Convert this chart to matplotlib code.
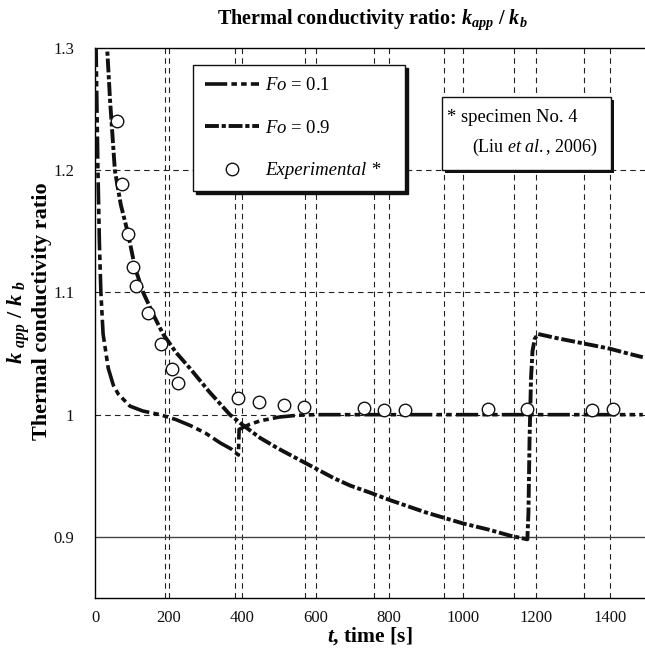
import numpy as np
import matplotlib
matplotlib.use("Agg")
import matplotlib.pyplot as plt
from matplotlib.patches import Rectangle

plt.rcParams["font.family"] = ["Liberation Serif", "DejaVu Serif"]
plt.rcParams["mathtext.fontset"] = "custom"
plt.rcParams["mathtext.rm"] = "Liberation Serif"
plt.rcParams["mathtext.it"] = "Liberation Serif:italic"
plt.rcParams["mathtext.bf"] = "Liberation Serif:bold"
plt.rcParams["mathtext.bfit"] = "Liberation Serif:bold:italic"
plt.rcParams["lines.scale_dashes"] = False

# ── data ─────────────────────────────────────────────────────────────────────
# Fo = 0.1 : fast relaxation, reset near t = 390 s
t_fo01 = [2, 3, 5, 8, 12, 16, 22, 36, 50, 63, 95, 130, 177, 220, 260, 300,
          340, 370, 390, 392, 420, 450, 500, 550, 600, 800, 1000, 1200, 1490]
k_fo01 = [1.36, 1.30, 1.257, 1.20, 1.14, 1.10, 1.066, 1.038, 1.024, 1.017,
          1.007, 1.003, 1.000, 0.996, 0.991, 0.985, 0.977, 0.972, 0.967,
          0.988, 0.992, 0.995, 0.998, 0.9995, 1.000, 1.000, 1.000, 1.000, 1.000]

# Fo = 0.9 : slow relaxation, reset near t = 1180 s
t_fo09 = [30, 33, 41, 54, 70, 90, 109, 131, 160, 185, 220, 258, 310, 367,
          400, 449, 500, 550, 600, 650, 694, 750, 803, 900, 1001, 1070, 1129,
          1176, 1179, 1182, 1186, 1190, 1196, 1205, 1250, 1300, 1350, 1400,
          1450, 1490]
k_fo09 = [1.33, 1.30, 1.257, 1.20, 1.172, 1.148, 1.120, 1.100, 1.081, 1.066,
          1.051, 1.038, 1.019, 1.000, 0.992, 0.981, 0.972, 0.964, 0.956, 0.948,
          0.942, 0.936, 0.930, 0.920, 0.911, 0.906, 0.901, 0.898, 0.92, 0.98,
          1.03, 1.052, 1.062, 1.066, 1.063, 1.060, 1.057, 1.054, 1.050, 1.047]

# experimental points (Liu et al., 2006, specimen No. 4)
t_exp = [59, 74, 91, 103, 112, 143, 179, 210, 227, 390, 446, 514, 569,
         732, 787, 844, 1068, 1175, 1351, 1410]
k_exp = [1.240, 1.189, 1.148, 1.121, 1.105, 1.083, 1.058, 1.037, 1.026,
         1.014, 1.010, 1.008, 1.006, 1.0055, 1.004, 1.004, 1.0046, 1.0046,
         1.004, 1.0046]

x_ticks = [0, 200, 400, 600, 800, 1000, 1200, 1400]
y_ticks = [0.9, 1.0, 1.1, 1.2, 1.3]
y_ticklabels = ["0.9", "1", "1.1", "1.2", "1.3"]
x_grid_extra = [190, 380, 570, 760, 950, 1140, 1330]

# ── figure ───────────────────────────────────────────────────────────────────
W, H = 645, 658
fig = plt.figure(figsize=(W / 100, H / 100), dpi=100)
ax = fig.add_axes([95 / W, 60 / H, 550 / W, 550 / H])
ax.set_xlim(0, 1496)
ax.set_ylim(0.85, 1.3)

grid_kw = dict(color="#222222", lw=0.8, ls=(0, (4, 3)), zorder=1)
for x in x_ticks[1:] + x_grid_extra:
    ax.axvline(x, **grid_kw)
for y in y_ticks[1:4]:
    ax.axhline(y, **grid_kw)
ax.axhline(y_ticks[0], color="#444444", lw=1.0, zorder=1)

ax.plot(t_fo01, k_fo01, color="#111111", lw=2.6,
        ls=(0, (16, 3, 4, 3, 4, 3)), label=r"$\mathit{Fo}$ = 0.1", zorder=3)
ax.plot(t_fo09, k_fo09, color="#111111", lw=2.8,
        ls=(0, (10, 2, 3, 2)), label=r"$\mathit{Fo}$ = 0.9", zorder=3)
ax.plot(t_exp, k_exp, "o", ms=9, mfc="white", mec="#111111", mew=1.0,
        label="Experimental *", zorder=4)

ax.set_xticks(x_ticks)
ax.set_yticks(y_ticks)
ax.set_yticklabels(y_ticklabels)
ax.tick_params(length=0, labelsize=12, colors="#111111")
ax.tick_params(axis="y", pad=15)
ax.tick_params(axis="x", pad=9)
ax.spines["right"].set_visible(False)
for s in ["left", "bottom", "top"]:
    ax.spines[s].set_linewidth(1.0)

leg = ax.legend(loc="upper left", bbox_to_anchor=(0.178, 0.738, 0.386, 0.231),
                mode="expand", borderaxespad=0, fancybox=False,
                edgecolor="#111111", framealpha=1,
                shadow={"color": "#111111", "alpha": 1},
                fontsize=13.5, handlelength=2.9, handletextpad=0.3,
                labelspacing=1.35, borderpad=0.65)
leg.get_frame().set_linewidth(1.0)
leg.get_texts()[2].set_style("italic")

# specimen note box with shadow
bx, by, bw, bh = 0.631, 0.778, 0.307, 0.133
ax.add_patch(Rectangle((bx + 0.006, by - 0.006), bw, bh, transform=ax.transAxes,
                       fc="#111111", ec="none", zorder=5))
ax.add_patch(Rectangle((bx, by), bw, bh, transform=ax.transAxes,
                       fc="white", ec="#111111", lw=1.0, zorder=6))
ax.text(bx + 0.009, 0.873, "* specimen No. 4", transform=ax.transAxes,
        fontsize=13.4, va="center", ha="left", zorder=7)
ax.text(bx + 0.054, 0.820, r"(Liu $\mathit{et\ al.}$, 2006)",
        transform=ax.transAxes, fontsize=13.0, va="center", ha="left", zorder=7)

fig.text(372 / W, 1 - 20 / H,
         r"Thermal conductivity ratio: $\mathbfit{k_{app}}$ / $\mathbfit{k_{b}}$",
         ha="center", va="center", fontsize=14.5, fontweight="bold")
fig.text(370 / W, 1 - 636 / H, r"$\mathbfit{t}$, time [s]",
         ha="center", va="center", fontsize=15.5, fontweight="bold")
fig.text(19 / W, 1 - 322 / H, r"$\mathbfit{k}$ $_{\mathbfit{app}}$ / $\mathbfit{k}$ $_{\mathbfit{b}}$",
         ha="center", va="center", rotation=90, fontsize=16, fontweight="bold")
fig.text(42 / W, 1 - 311 / H, "Thermal conductivity ratio",
         ha="center", va="center", rotation=90, fontsize=16, fontweight="bold")

fig.savefig("out.png", dpi=100)
